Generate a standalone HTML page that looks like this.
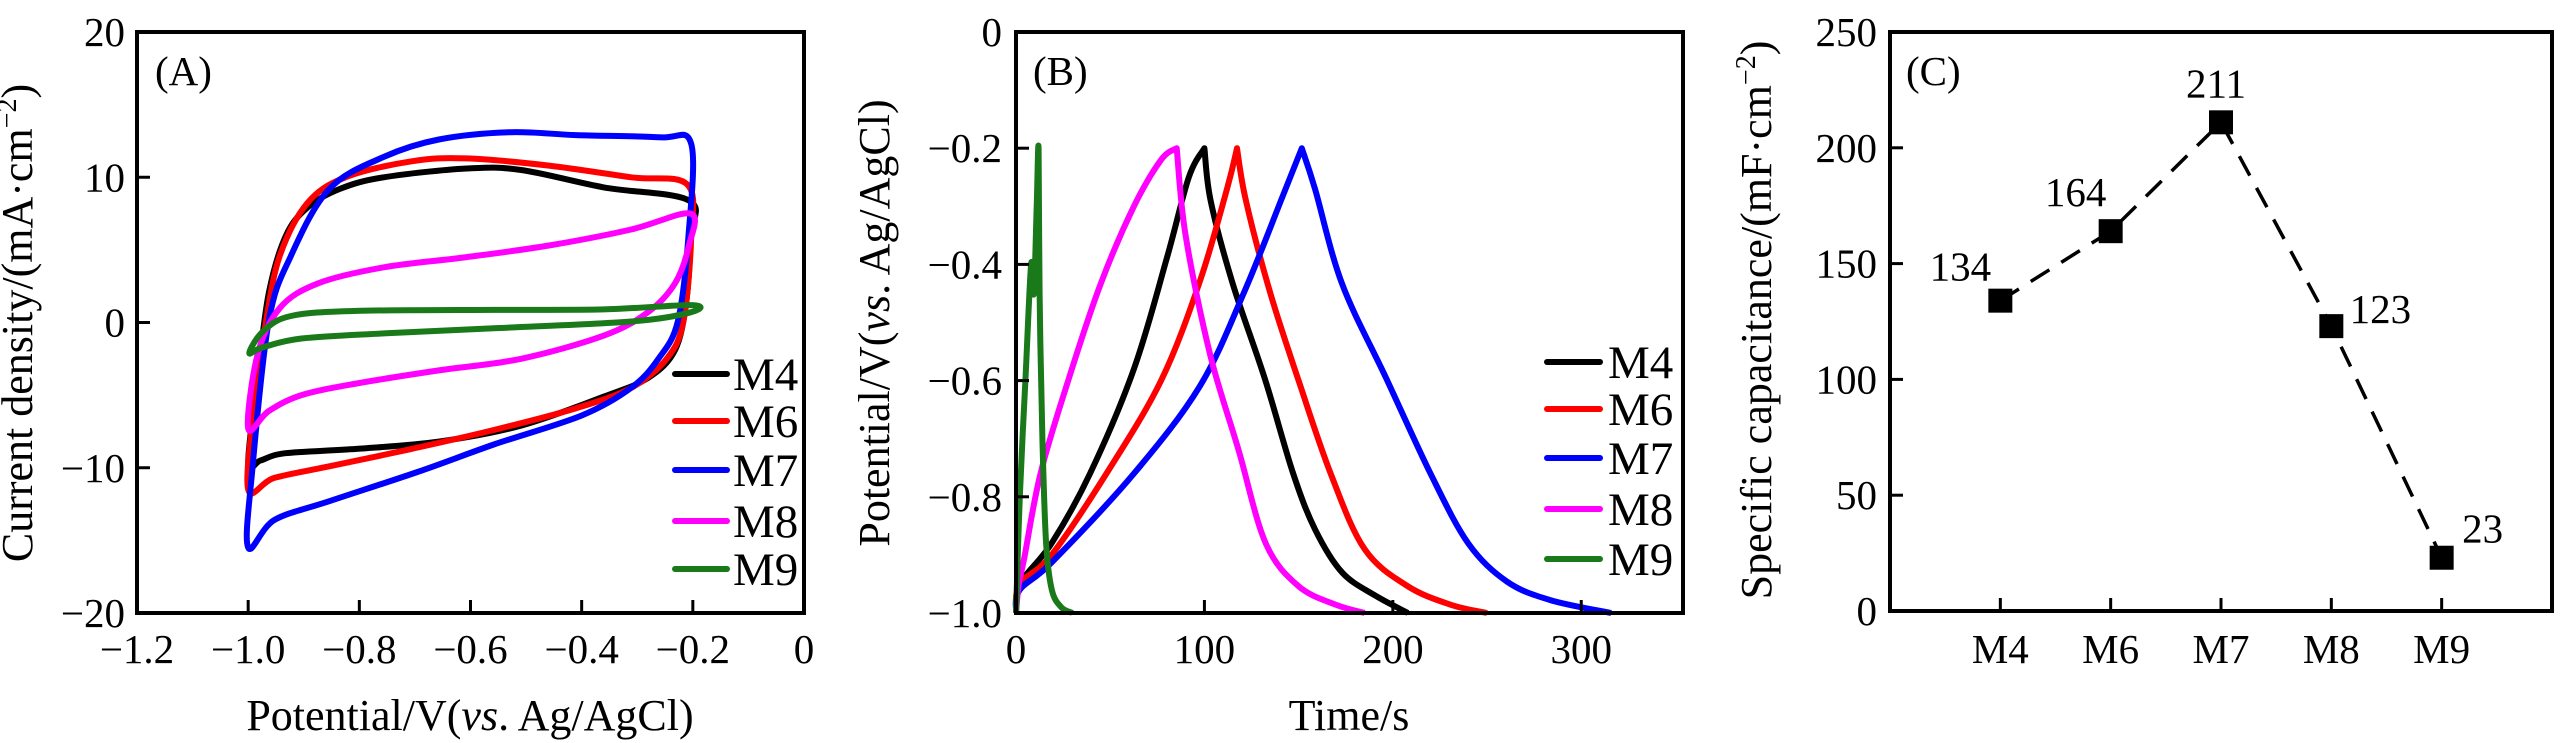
<!DOCTYPE html>
<html><head><meta charset="utf-8">
<style>
html,body{margin:0;padding:0;background:#fff;}
svg{display:block;font-family:"Liberation Serif",serif;}
</style></head>
<body>
<svg id="fig" width="2567" height="743" viewBox="0 0 2567 743" xmlns="http://www.w3.org/2000/svg"></svg>
<script>
// ---------- Panel A data (CV loops) ----------
const cvNames = ["M4","M6","M7","M8","M9"];
const cvColors = ["#000000","#ff0000","#0000ff","#ff00ff","#1a7a1a"];
const cvM4V = [-1.0,-0.983,-0.963,-0.933,-0.894,-0.835,-0.756,-0.607,-0.509,-0.36,-0.207,-0.204,-0.212,-0.232,-0.28,-0.36,-0.509,-0.657,-0.805,-0.933,-0.978,-1.0];
const cvM4I = [-9.7,-3.8,2.0,5.9,7.9,9.2,10.0,10.6,10.5,9.3,8.4,5.9,1.4,-1.9,-3.8,-5.1,-7.1,-8.2,-8.7,-9.0,-9.5,-9.7];
const cvM6V = [-1.0,-0.988,-0.968,-0.943,-0.894,-0.825,-0.706,-0.607,-0.459,-0.311,-0.21,-0.203,-0.217,-0.247,-0.311,-0.41,-0.558,-0.706,-0.854,-0.953,-1.0];
const cvM6I = [-11.5,-5.5,0.07,4.6,8.2,10.0,11.1,11.3,10.8,10.0,9.5,5.9,0.07,-2.5,-4.5,-5.9,-7.4,-8.7,-9.9,-10.7,-11.5];
const cvM7V = [-1.0,-0.993,-0.963,-0.923,-0.854,-0.756,-0.657,-0.528,-0.41,-0.26,-0.203,-0.208,-0.227,-0.262,-0.311,-0.4,-0.558,-0.696,-0.854,-0.953,-1.0];
const cvM7I = [-15.5,-10.3,0.07,4.6,9.2,11.4,12.6,13.1,12.9,12.75,12.3,5.9,0.07,-2.5,-4.5,-6.4,-8.4,-10.3,-12.3,-13.6,-15.5];
const cvM8V = [-1.0,-0.983,-0.943,-0.874,-0.756,-0.607,-0.459,-0.311,-0.204,-0.207,-0.232,-0.281,-0.36,-0.509,-0.657,-0.805,-0.904,-0.963,-1.0];
const cvM8I = [-7.3,-2.2,1.0,2.7,3.8,4.5,5.3,6.4,7.5,5.3,2.7,0.7,-0.9,-2.5,-3.3,-4.2,-5.0,-6.1,-7.3];
const cvM9V = [-0.998,-0.973,-0.923,-0.805,-0.558,-0.36,-0.202,-0.204,-0.311,-0.558,-0.756,-0.904,-0.973,-0.998];
const cvM9I = [-2.1,-0.6,0.45,0.8,0.87,0.9,1.2,0.7,0.07,-0.4,-0.75,-1.1,-1.7,-2.1];
const cvXTicks = [-1.2,-1.0,-0.8,-0.6,-0.4,-0.2,0];
const cvXTickLabels = ["\u22121.2","\u22121.0","\u22120.8","\u22120.6","\u22120.4","\u22120.2","0"];
const cvYTicks = [20,10,0,-10,-20];
const cvYTickLabels = ["20","10","0","\u221210","\u221220"];

// ---------- Panel B data (GCD) ----------
const gcdM4T = [0,2,18.9,39.3,62.6,80,91.7,100,103.3,115,132,147,158.7,173,190.7,208];
const gcdM4E = [-1.0,-0.95,-0.88,-0.76,-0.58,-0.39,-0.25,-0.2,-0.29,-0.433,-0.596,-0.759,-0.856,-0.93,-0.97,-1.0];
const gcdM6T = [0,2,18.9,48,77,97.5,112,117.3,122,135,150,167,185,208,231,250];
const gcdM6E = [-1.0,-0.95,-0.9,-0.76,-0.6,-0.43,-0.27,-0.2,-0.29,-0.45,-0.6,-0.76,-0.89,-0.954,-0.986,-1.0];
const gcdM7T = [0,2,18.9,62.6,97.5,120.8,141,151.7,158.7,173,196.5,220,240,260.6,283.8,315.9];
const gcdM7E = [-1.0,-0.96,-0.913,-0.76,-0.61,-0.45,-0.287,-0.2,-0.27,-0.433,-0.596,-0.76,-0.88,-0.946,-0.978,-1.0];
const gcdM8T = [0,1.5,4.4,13,27.7,45,62.6,77,85.3,90,103,118,132.5,150,170,185];
const gcdM8E = [-1.0,-0.95,-0.905,-0.76,-0.6,-0.433,-0.3,-0.22,-0.2,-0.35,-0.555,-0.718,-0.88,-0.954,-0.986,-1.0];
const gcdM9T = [0,2,5,8,9.5,11,12,12.5,14,16,19,24,30];
const gcdM9E = [-1.0,-0.8,-0.6,-0.4,-0.45,-0.3,-0.2,-0.45,-0.7,-0.88,-0.96,-0.99,-1.0];
const gcdXTicks = [0,100,200,300];
const gcdXTickLabels = ["0","100","200","300"];
const gcdYTicks = [0,-0.2,-0.4,-0.6,-0.8,-1.0];
const gcdYTickLabels = ["0","\u22120.2","\u22120.4","\u22120.6","\u22120.8","\u22121.0"];

// ---------- Panel C data ----------
const capCategories = ["M4","M6","M7","M8","M9"];
const capValues = [134,164,211,123,23];
const capLabels = ["134","164","211","123","23"];
const capYTicks = [0,50,100,150,200,250];
const capYTickLabels = ["0","50","100","150","200","250"];

const NS = "http://www.w3.org/2000/svg";
const svg = document.getElementById("fig");
function mk(tag, attrs, parent, text){
  const e = document.createElementNS(NS, tag);
  for (const k in attrs) e.setAttribute(k, attrs[k]);
  if (text !== undefined) e.textContent = text;
  (parent || svg).appendChild(e);
  return e;
}
function lin(d0,d1,r0,r1){ return v => r0 + (v-d0)/(d1-d0)*(r1-r0); }

function frame(g, L, T, R, B, name){
  const f = mk("rect",{x:L,y:T,width:R-L,height:B-T,fill:"none",stroke:"#000","stroke-width":4},g);
  
  
}
function yAxis(g, ticks, labels, sy, L, lx){
  ticks.forEach((t,i)=>{
    const y = sy(t);
    const tk = mk("line",{x1:L,x2:L+13,y1:y,y2:y,stroke:"#000","stroke-width":3},g);
    
    
    const lb = mk("text",{x:lx,y:y+14,"text-anchor":"end","font-size":41},g,labels[i]);
    
    
  });
}
function xAxis(g, ticks, labels, sx, B, ly){
  ticks.forEach((t,i)=>{
    const x = sx(t);
    const tk = mk("line",{x1:x,x2:x,y1:B,y2:B-13,stroke:"#000","stroke-width":3},g);
    
    
    const lb = mk("text",{x:x,y:ly,"text-anchor":"middle","font-size":41},g,labels[i]);
    
    
  });
}
function pathFrom(xs, ys, sx, sy, close){
  let d = "";
  xs.forEach((v,i)=>{ d += (i?"L":"M") + sx(v).toFixed(1) + "," + sy(ys[i]).toFixed(1); });
  return d + (close ? "Z" : "");
}
// Catmull-Rom smoothing through pixel points
function smoothPts(P, closed){
  const n = P.length;
  let d = "M" + P[0][0].toFixed(1) + "," + P[0][1].toFixed(1);
  const get = i => closed ? P[(i+n)%n] : P[Math.max(0,Math.min(n-1,i))];
  const last = closed ? n : n-1;
  for (let i=0;i<last;i++){
    const p0=get(i-1),p1=get(i),p2=get(i+1),p3=get(i+2);
    const c1=[p1[0]+(p2[0]-p0[0])/6,p1[1]+(p2[1]-p0[1])/6];
    const c2=[p2[0]-(p3[0]-p1[0])/6,p2[1]-(p3[1]-p1[1])/6];
    d += "C"+c1[0].toFixed(1)+","+c1[1].toFixed(1)+" "+c2[0].toFixed(1)+","+c2[1].toFixed(1)+" "+p2[0].toFixed(1)+","+p2[1].toFixed(1);
  }
  return d + (closed?"Z":"");
}
function legend(g, x0, x1, lx, rows){
  cvNames.forEach((n,i)=>{
    const y = rows[i];
    const ln = mk("line",{x1:x0,x2:x1,y1:y,y2:y,stroke:cvColors[i],"stroke-width":6,"stroke-linecap":"round"},g);
    
    
    const t = mk("text",{x:lx,y:y+16,"font-size":47},g,n);
    
    
  });
}

// ===== Panel A =====
(function(){
  const g = mk("g",{});
  
  
  const L=137,R=804,T=32,B=613;
  const sx = lin(-1.2,0,L,R), sy = lin(20,-20,T,B);
  const series = [[cvM4V,cvM4I],[cvM6V,cvM6I],[cvM7V,cvM7I],[cvM8V,cvM8I],[cvM9V,cvM9I]];
  series.forEach((s,i)=>{
    const pts = s[0].slice(0,-1).map((v,k)=>[sx(v),sy(s[1][k])]);
    const p = mk("path",{d:smoothPts(pts,true),fill:"none",stroke:cvColors[i],"stroke-width":6,"stroke-linejoin":"round"},g);
    
    
  });
  frame(g,L,T,R,B,'panel-a-frame');
  yAxis(g,cvYTicks,cvYTickLabels,sy,L,125);
  xAxis(g,cvXTicks,cvXTickLabels,sx,B,663);
  legend(g,675,727,733,[374,421,470,521,569]);
  const lab = mk("text",{x:155,y:85,"font-size":41},g,"(A)");
  
  
  const xt = mk("text",{x:470,y:730,"text-anchor":"middle","font-size":44},g);
  
  
  xt.innerHTML = 'Potential/V(<tspan font-style="italic">vs</tspan>. Ag/AgCl)';
  const yt = mk("text",{x:0,y:0,"text-anchor":"middle","font-size":44,transform:"translate(32,323) rotate(-90)"},g);
  
  
  yt.innerHTML = 'Current density/(mA\u00b7cm<tspan dy="-16" font-size="28">\u22122</tspan><tspan dy="16">)</tspan>';
})();

// ===== Panel B =====
(function(){
  const g = mk("g",{});
  
  
  const L=1016,R=1683,T=32,B=613;
  const sx = lin(0,354,L,R), sy = lin(0,-1.0,T,B);
  const series = [[gcdM4T,gcdM4E],[gcdM6T,gcdM6E],[gcdM7T,gcdM7E],[gcdM8T,gcdM8E],[gcdM9T,gcdM9E]];
  series.forEach((s,i)=>{
    const pts = s[0].map((v,k)=>[sx(v),sy(s[1][k])]);
    let pk = 0; s[1].forEach((e,k)=>{ if (e > s[1][pk]) pk = k; });
    const d = i===4 ? smoothPts(pts,false) : smoothPts(pts.slice(0,pk+1),false) + smoothPts(pts.slice(pk),false).replace(/^M[^C]*/,"");
    const p = mk("path",{d:d,fill:"none",stroke:cvColors[i],"stroke-width":6,"stroke-linejoin":"round"},g);
    
    
  });
  frame(g,L,T,R,B,'panel-b-frame');
  yAxis(g,gcdYTicks,gcdYTickLabels,sy,L,1002);
  xAxis(g,gcdXTicks,gcdXTickLabels,sx,B,663);
  legend(g,1547,1600,1608,[362,409,458,509,559]);
  const lab = mk("text",{x:1033,y:85,"font-size":41},g,"(B)");
  
  
  const xt = mk("text",{x:1349,y:730,"text-anchor":"middle","font-size":44},g,"Time/s");
  
  
  const yt = mk("text",{x:0,y:0,"text-anchor":"middle","font-size":44,transform:"translate(889,323) rotate(-90)"},g);
  
  
  yt.innerHTML = 'Potential/V(<tspan font-style="italic">vs</tspan>. Ag/AgCl)';
})();

// ===== Panel C =====
(function(){
  const g = mk("g",{});
  
  
  const L=1890,R=2552,T=32,B=611;
  const sx = lin(-1,5,L,R), sy = lin(0,250,B,T);
  const labelOffsets = [[-40,-20],[-35,-25],[-5,-25],[49,-3],[41,-15]];
  const line = mk("path",{d:pathFrom(capCategories.map((c,i)=>i),capValues,sx,sy,false),fill:"none",stroke:"#000","stroke-width":3.5,"stroke-dasharray":"22,14"},g);
  
  
  capValues.forEach((v,i)=>{
    const x=sx(i), y=sy(v);
    const m = mk("rect",{x:x-12,y:y-12,width:24,height:24,fill:"#000"},g);
    
    
    const t = mk("text",{x:x+labelOffsets[i][0],y:y+labelOffsets[i][1],"text-anchor":"middle","font-size":41},g,capLabels[i]);
    
    
  });
  frame(g,L,T,R,B,'panel-c-frame');
  yAxis(g,capYTicks,capYTickLabels,sy,L,1877);
  xAxis(g,capCategories.map((c,i)=>i),capCategories,sx,B,663);
  const lab = mk("text",{x:1906,y:85,"font-size":41},g,"(C)");
  
  
  const yt = mk("text",{x:0,y:0,"text-anchor":"middle","font-size":44,transform:"translate(1771,320) rotate(-90)"},g);
  
  
  yt.innerHTML = 'Specific capacitance/(mF\u00b7cm<tspan dy="-16" font-size="28">\u22122</tspan><tspan dy="16">)</tspan>';
})();
</script>
</body></html>
